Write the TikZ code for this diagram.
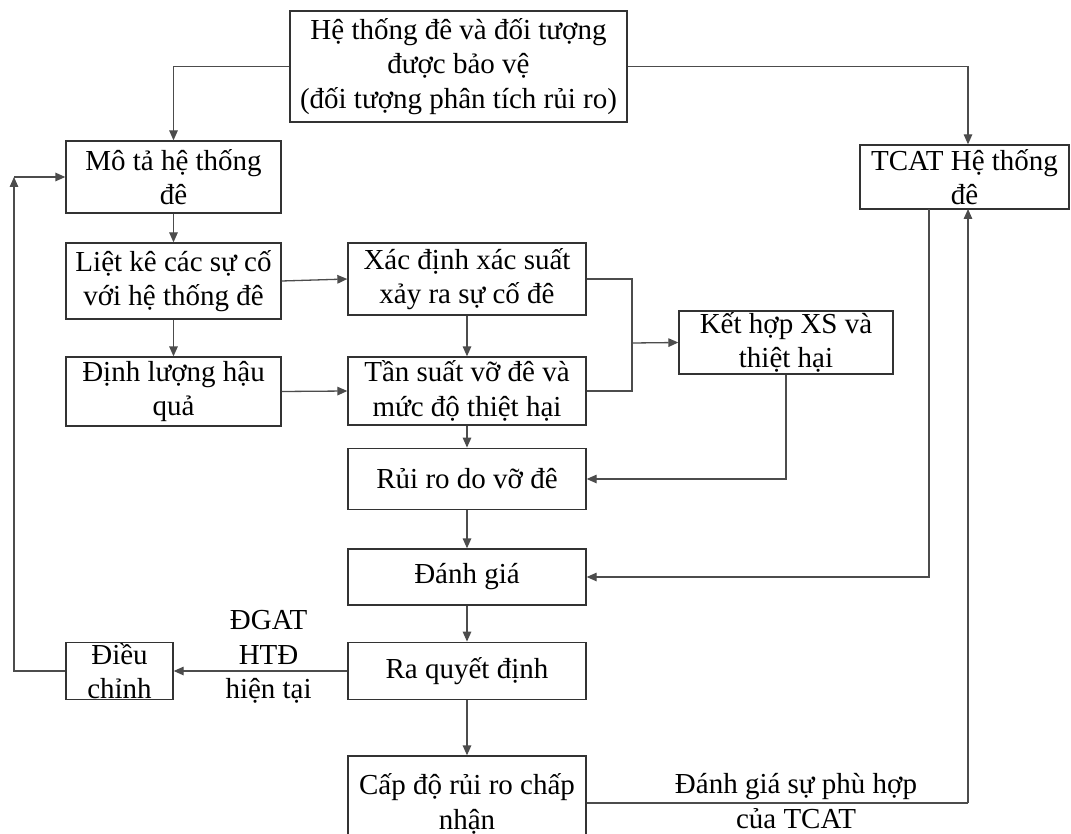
\documentclass[tikz,border=0pt]{standalone}
\usepackage{fontspec}
\setmainfont{Liberation Serif}
\usetikzlibrary{arrows.meta,calc}
\begin{document}
\begin{tikzpicture}[x=1pt,y=-1pt,
  every node/.style={font=\fontsize{29}{34.5}\selectfont, inner sep=0pt, text=black},
  box/.style={draw=black!80, line width=1.3pt, align=center},
  conn/.style={draw=black!70, line width=1.3pt},
  arr/.style={conn, -{Triangle[length=10pt,width=8.5pt]}},
  lbl/.style={align=center}]
\useasboundingbox (0,0) rectangle (1071,834);
\fill[white] (0,0) rectangle (1071,834);
\begin{scope}
\clip (0,0) rectangle (1071,834);
\node[box, minimum width=337pt, minimum height=111pt] (top) at (458.5,66.5) {Hệ thống đê và đối tượng\\được bảo vệ\\(đối tượng phân tích rủi ro)};
\node[box, minimum width=215pt, minimum height=72pt] (mota) at (173.5,177) {Mô tả hệ thống\\đê};
\node[box, minimum width=215pt, minimum height=76pt] (liet) at (173.5,281) {Liệt kê các sự cố\\với hệ thống đê};
\node[box, minimum width=215pt, minimum height=69pt] (dinh) at (173.5,391.5) {Định lượng hậu\\quả};
\node[box, minimum width=238pt, minimum height=72pt] (xac) at (467,279) {Xác định xác suất\\xảy ra sự cố đê};
\node[box, minimum width=238pt, minimum height=68pt] (tan) at (467,391) {Tần suất vỡ đê và\\mức độ thiệt hại};
\node[box, minimum width=214pt, minimum height=63pt] (ket) at (786,342.5) {Kết hợp XS và\\thiệt hại};
\node[box, minimum width=209pt, minimum height=64pt] (tcat) at (964.5,177) {TCAT Hệ thống\\đê};
\node[box, minimum width=238pt, minimum height=61.5pt] (ruiro) at (467,479) {Rủi ro do vỡ đê};
\node[box, minimum width=238pt, minimum height=56pt] (danh) at (467,577) {Đánh giá};
\node[box, minimum width=238pt, minimum height=57.5pt] (ra) at (467,671) {Ra quyết định};
\node[box, minimum width=107pt, minimum height=57.5pt] (dieu) at (119.5,671) {Điều\\chỉnh};
\node[box, minimum width=238pt, minimum height=96pt] (cap) at (467,804) {Cấp độ rủi ro chấp\\nhận};

\coordinate (tcatin) at (968,209);
\coordinate (tcatout) at (929,209);
\coordinate (merge) at (632,343);
\coordinate (cornerL) at (14,177);
\coordinate (cornerR) at (968,803);

\draw[arr] (top.west) -| (mota.north);
\draw[arr] (top.east) -| (tcatin |- tcat.north);
\draw[arr] (mota.south) -- (liet.north);
\draw[arr] (liet.south) -- (dinh.north);
\draw[arr] (liet.east) -- (xac.west);
\draw[arr] (dinh.east) -- (tan.west);
\draw[arr] (xac.south) -- (tan.north);
\draw[conn] (xac.east) -| (merge) |- (tan.east);
\draw[arr] (merge) -- (ket.west);
\draw[arr] (tan.south) -- (ruiro.north);
\draw[arr] (ket.south) |- (ruiro.east);
\draw[arr] (ruiro.south) -- (danh.north);
\draw[arr] (tcatout) |- (danh.east);
\draw[arr] (danh.south) -- (ra.north);
\draw[arr] (ra.west) -- (dieu.east);
\draw[arr] (dieu.west) -| (cornerL);
\draw[arr] (cornerL) -- (mota.west);
\draw[arr] (ra.south) -- (cap.north);
\draw[conn] (cap.east |- cornerR) -- (cornerR);
\draw[arr] (cornerR) -- (tcatin);

\node[lbl] (lab1) at (268.6,657) {ĐGAT\\HTĐ\\hiện tại};
\node[lbl] (lab2) at (796,801) {Đánh giá sự phù hợp\\của TCAT};
\end{scope}
\end{tikzpicture}
\end{document}
